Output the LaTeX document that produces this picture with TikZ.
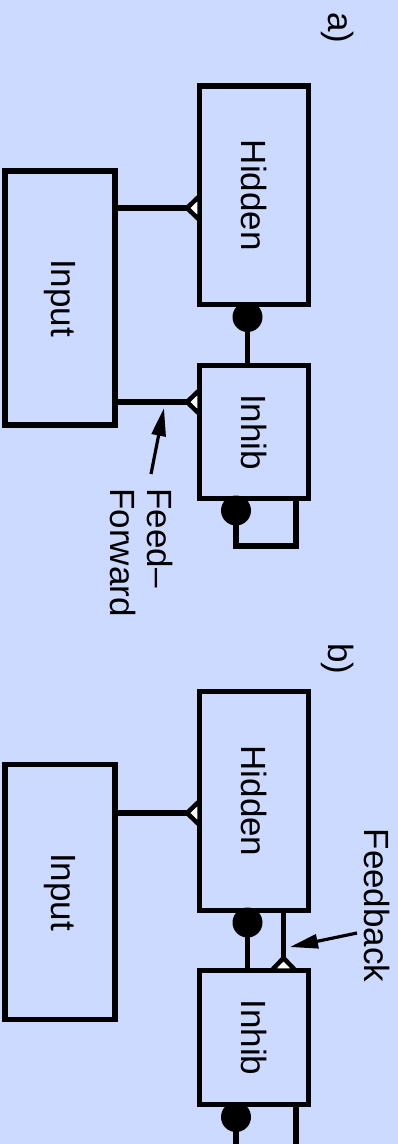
\documentclass[tikz,border=0pt]{standalone}
\usepackage{fontspec}
\setmainfont{Liberation Sans}
\usetikzlibrary{arrows.meta}
\definecolor{bg}{RGB}{204,218,255}
\begin{document}
\begin{tikzpicture}[x=1pt,y=-1pt,
  every node/.style={font=\fontsize{35}{37}\selectfont},
  unit/.style={draw, line width=5.5pt, inner sep=0pt, outer sep=0pt},
  link/.style={line width=5.5pt},
  tri/.style={line width=4.5pt, fill=white, line join=miter},
  lbl/.style={rotate=-90, inner sep=0pt},
  callout/.style={line width=3.2pt, -{Triangle[length=28pt,width=14pt]}}]
\fill[bg] (0,0) rectangle (398,1144);
\clip (0,0) rectangle (398,1144);
% helper coordinates
\coordinate (xi) at (247.5,0);
\coordinate (xl) at (236,0);
\coordinate (xr) at (296,0);
\coordinate (xf) at (283.5,0);
\coordinate (ya1) at (0,208);
\coordinate (ya2) at (0,402);
\coordinate (yb1) at (0,813);
% panel a
\node[unit, minimum width=109pt, minimum height=218.5pt] (hidA) at (254,195.25) {\rotatebox{-90}{Hidden}};
\node[unit, minimum width=109pt, minimum height=133pt] (inhA) at (254,432) {\rotatebox{-90}{Inhib}};
\node[unit, minimum width=110pt, minimum height=254pt] (inA) at (60,298) {\rotatebox{-90}{Input}};
\node[lbl] (la) at (338,28) {a)};
\draw[link] (inA.east |- ya1) -- (hidA.west |- ya1);
\draw[tri] (hidA.west |- ya1) ++(0,-12) -- ++(-12.5,12) -- ++(12.5,12) -- cycle;
\draw[link] (inA.east |- ya2) -- (inhA.west |- ya2);
\draw[tri] (inhA.west |- ya2) ++(0,-12) -- ++(-12.5,12) -- ++(12.5,12) -- cycle;
\draw[link] (hidA.south -| xi) -- (inhA.north -| xi);
\fill (hidA.south -| xi) ++(0,12.5) circle[radius=15];
\draw[link] (inhA.south -| xr) -- ++(0,47.5) -| (inhA.south -| xl);
\fill (inhA.south -| xl) ++(0,12) circle[radius=15];
\node[lbl, align=left] (ff) at (141.5,552.5) {Feed--\\Forward};
\coordinate (ffs) at (151,474);
\coordinate (fft) at (164,408);
\draw[callout] (ffs) -- (fft);
% panel b
\node[unit, minimum width=109pt, minimum height=219pt] (hidB) at (254,801) {\rotatebox{-90}{Hidden}};
\node[unit, minimum width=109pt, minimum height=134pt] (inhB) at (254,1037.5) {\rotatebox{-90}{Inhib}};
\node[unit, minimum width=110pt, minimum height=255pt] (inB) at (60,892) {\rotatebox{-90}{Input}};
\node[lbl] (lb) at (338,659) {b)};
\draw[link] (inB.east |- yb1) -- (hidB.west |- yb1);
\draw[tri] (hidB.west |- yb1) ++(0,-12) -- ++(-12.5,12) -- ++(12.5,12) -- cycle;
\draw[link] (hidB.south -| xi) -- (inhB.north -| xi);
\fill (hidB.south -| xi) ++(0,12) circle[radius=15];
\draw[link] (inhB.north -| xf) -- (hidB.south -| xf);
\draw[tri] (inhB.north -| xf) ++(-12,0) -- ++(12,-12.5) -- ++(12,12.5) -- cycle;
\draw[link] (inhB.south -| xr) -- ++(0,80) -| (inhB.south -| xl);
\fill (inhB.south -| xl) ++(0,12.5) circle[radius=15];
\node[lbl] (fb) at (377,905.5) {Feedback};
\coordinate (fbs) at (357,933);
\coordinate (fbt) at (290,947);
\draw[callout] (fbs) -- (fbt);
\end{tikzpicture}
\end{document}
